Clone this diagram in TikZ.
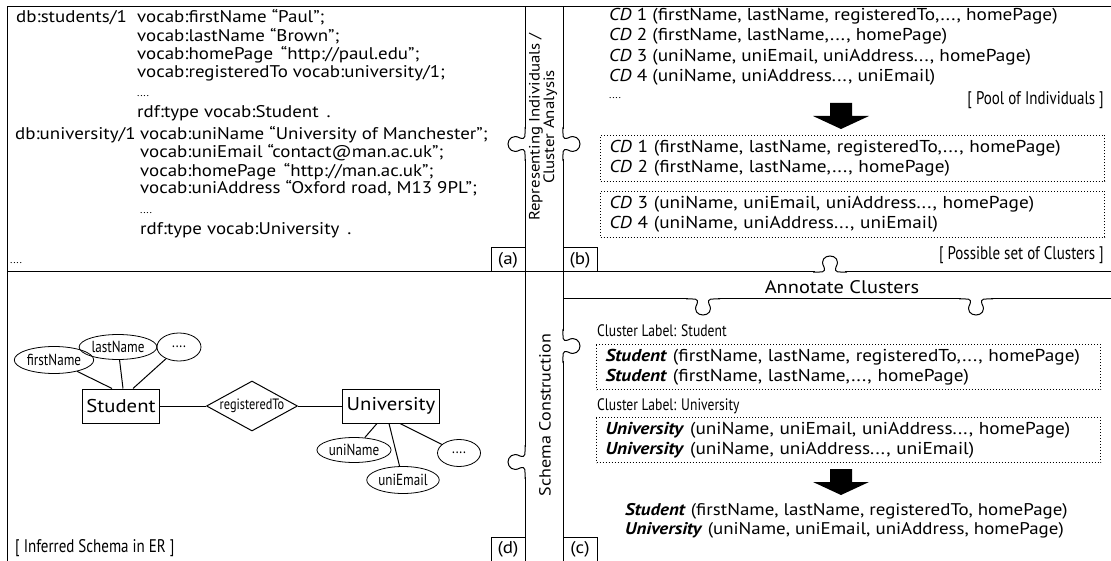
\documentclass[tikz,border=0pt]{standalone}
\usepackage{fontspec}
\setmainfont[FakeStretch=1.12]{PT Sans}
\newfontfamily\narrowfont[FakeStretch=0.82]{PT Sans}
\usetikzlibrary{positioning, shapes.geometric}

\begin{document}
\begin{tikzpicture}[x=1pt, y=-1pt,
    panelline/.style={line width=1pt},
    rdfline/.style={anchor=base west, inner sep=0pt, font=\fontsize{16.9}{18}\selectfont},
    cdline/.style={anchor=base west, inner sep=0pt, font=\fontsize{17.2}{20}\selectfont},
    dots/.style={anchor=base west, inner sep=0pt, font=\fontsize{10}{12}\selectfont},
    caption/.style={inner sep=0pt, font=\fontsize{18.3}{18}\narrowfont},
    clusterlabel/.style={anchor=base west, inner sep=0pt, font=\fontsize{16.6}{18}\narrowfont},
    panellabel/.style={draw, line width=1pt, minimum width=34pt, minimum height=24pt, inner sep=0pt, font=\fontsize{17}{18}\selectfont},
    clusterbox/.style={draw, dotted, line width=1pt, anchor=north west, minimum width=504pt, minimum height=46pt,
        text width=486pt, inner xsep=9pt, align=left, font=\fontsize{17.2}{20}\selectfont},
    entity/.style={draw, line width=1pt, minimum height=34pt, inner xsep=4pt, font=\fontsize{18.5}{20}\selectfont},
    attr/.style={ellipse, draw, line width=0.8pt, inner sep=1pt, font=\fontsize{16}{16}\narrowfont},
    erline/.style={line width=1pt},
    htab/.pic={
        \fill[white] (-15,-1.5) rectangle (15,1.5);
        \draw[panelline] (-17,0) .. controls (-8,0) and (-4,-1) .. (-6,5)
            .. controls (-10,12) and (-5,16) .. (0,16)
            .. controls (5,16) and (10,12) .. (6,5)
            .. controls (4,-1) and (8,0) .. (17,0);
    },
    vtab/.pic={
        \fill[white] (-1.5,-15) rectangle (1.5,15);
        \draw[panelline] (0,-17) .. controls (0,-8) and (-1,-4) .. (5,-6)
            .. controls (12,-10) and (17,-5) .. (17,0)
            .. controls (17,5) and (12,10) .. (5,6)
            .. controls (-1,4) and (0,8) .. (0,17);
    }]
    \useasboundingbox (0,0) rectangle (1111,561);

    % frame of the four panels and the two strips
    \draw[panelline] (7,561) -- (7,7) -- (1111,7);
    \draw[panelline] (7,272) -- (1111,272);
    \draw[panelline] (525,7) -- (525,561);
    \draw[panelline] (563,7) -- (563,561);
    \draw[panelline] (563,299) -- (1111,299);

    % puzzle tabs
    \pic[xscale=-1] at (525,144) {vtab};
    \pic at (563,144) {vtab};
    \pic at (563,346) {vtab};
    \pic[xscale=-1] at (525,462) {vtab};
    \pic[yscale=-1] at (830,272) {htab};
    \pic at (703,299) {htab};
    \pic at (976,299) {htab};

    % strip titles
    \node[rotate=90, align=center, font=\fontsize{15}{14.5}\selectfont] (repr) at (543,127) {Representing Individuals /\\Cluster Analysis};
    \node[rotate=90, font=\fontsize{16.1}{20}\selectfont] (schema) at (545,415) {Schema Construction};

    % (a) RDF data
    \node[rdfline] (a1) at (16,23) {db:students/1};
    \node[rdfline] (a2) at (137,23) {vocab:firstName “Paul”;};
    \node[rdfline] (a3) at (137,42) {vocab:lastName “Brown”;};
    \node[rdfline] (a4) at (137,60) {vocab:homePage\,  “http://paul.edu”;};
    \node[rdfline] (a5) at (137,78) {vocab:registeredTo vocab:university/1;};
    \node[dots] (a6) at (137,97) {....};
    \node[rdfline] (a7) at (137,118) {rdf:type vocab:Student\, .};
    \node[rdfline] (a8) at (15,140) {db:university/1};
    \node[rdfline] (a9) at (140,140) {vocab:uniName “University of Manchester”;};
    \node[rdfline] (a10) at (140,158) {vocab:uniEmail “contact@man.ac.uk”;};
    \node[rdfline] (a11) at (140,177) {vocab:homePage\,  “http://man.ac.uk”;};
    \node[rdfline] (a12) at (140,194) {vocab:uniAddress “Oxford road, M13 9PL”;};
    \node[dots] (a13) at (140,214) {....};
    \node[rdfline] (a14) at (140,235) {rdf:type vocab:University\, .};
    \node[dots] (a15) at (10,264) {....};
    \node[panellabel] (taga) at (508,260) {(a)};

    % (b) pool of individuals and clusters
    \node[cdline] (b1) at (609,21) {\textit{CD} 1 (firstName, lastName, registeredTo,..., homePage)};
    \node[cdline] (b2) at (609,41) {\textit{CD} 2 (firstName, lastName,..., homePage)};
    \node[cdline] (b3) at (609,62) {\textit{CD} 3 (uniName, uniEmail, uniAddress..., homePage)};
    \node[cdline] (b4) at (609,82) {\textit{CD} 4 (uniName, uniAddress..., uniEmail)};
    \node[dots] (b5) at (609,99) {....};
    \node[caption, anchor=base east] (pool) at (1104,105) {[ Pool of Individuals ]};
    \coordinate (arrb) at (841,103);
    \fill (arrb) ++(-11,0) -- ++(22,0) -- ++(0,13) -- ++(17,0) -- ++(-28,13) -- ++(-28,-13) -- ++(17,0) -- cycle;
    \node[clusterbox] (clu1) at (600,135) {\textit{CD} 1 (firstName, lastName, registeredTo,..., homePage)\\\textit{CD} 2 (firstName, lastName,..., homePage)};
    \node[clusterbox] (clu2) at (600,191) {\textit{CD} 3 (uniName, uniEmail, uniAddress..., homePage)\\\textit{CD} 4 (uniName, uniAddress..., uniEmail)};
    \node[caption, anchor=base east] (possible) at (1104,260) {[ Possible set of Clusters ]};
    \node[panellabel] (tagb) at (580,260) {(b)};

    % (c) annotated clusters
    \node[font=\fontsize{18.2}{20}\selectfont] (annot) at (842,287) {Annotate Clusters};
    \node[clusterlabel] (lab1) at (597,337) {Cluster Label: Student};
    \node[clusterbox, minimum height=45pt] (clu3) at (596,344) {\textbf{\textit{Student}} (firstName, lastName, registeredTo,..., homePage)\\\textbf{\textit{Student}} (firstName, lastName,..., homePage)};
    \node[clusterlabel] (lab2) at (597,410) {Cluster Label: University};
    \node[clusterbox, minimum height=45pt] (clu4) at (596,417) {\textbf{\textit{University}} (uniName, uniEmail, uniAddress..., homePage)\\\textbf{\textit{University}} (uniName, uniAddress..., uniEmail)};
    \coordinate (arrc) at (841,469);
    \fill (arrc) ++(-11,0) -- ++(22,0) -- ++(0,13) -- ++(17,0) -- ++(-28,13) -- ++(-28,-13) -- ++(17,0) -- cycle;
    \node[cdline, font=\fontsize{16.9}{20}\selectfont] (fin1) at (625,515) {\textbf{\textit{Student}} (firstName, lastName, registeredTo, homePage)};
    \node[cdline, font=\fontsize{16.9}{20}\selectfont] (fin2) at (625,534) {\textbf{\textit{University}} (uniName, uniEmail, uniAddress, homePage)};
    \node[panellabel] (tagc) at (580,549) {(c)};

    % (d) ER schema
    \node[entity] (stu) at (121,406) {Student};
    \node[diamond, draw, line width=1pt, aspect=1.9, inner sep=0pt, minimum width=91pt, minimum height=50pt,
        font=\fontsize{15}{16}\narrowfont] (reg) at (252,406) {registeredTo};
    \node[entity] (uni) at (391,406) {University};
    \node[attr, minimum width=66pt, minimum height=27pt] (fname) at (54,360) {firstName};
    \node[attr, minimum width=65pt, minimum height=25pt] (lname) at (118,347) {lastName};
    \node[attr, minimum width=44pt, minimum height=28pt] (smore) at (179,347) {....};
    \node[attr, minimum width=62pt, minimum height=25pt] (uname) at (354,450) {uniName};
    \node[attr, minimum width=62pt, minimum height=27pt] (umail) at (403,480) {uniEmail};
    \node[attr, minimum width=43pt, minimum height=27pt] (umore) at (459,453) {....};
    \draw[erline] (stu) -- (reg) -- (uni);
    \draw[erline] (fname) -- ([xshift=-9pt]stu.north);
    \draw[erline] (lname) -- ([xshift=2pt]stu.north);
    \draw[erline] (smore) -- ([xshift=12pt]stu.north);
    \draw[erline] (uname) -- ([xshift=-14pt]uni.south);
    \draw[erline] (umail) -- ([xshift=-2pt]uni.south);
    \draw[erline] (umore) -- ([xshift=9pt]uni.south);
    \node[caption, anchor=base west] (inferred) at (15,552) {[ Inferred Schema in ER ]};
    \node[panellabel] (tagd) at (508,549) {(d)};
\end{tikzpicture}
\end{document}
